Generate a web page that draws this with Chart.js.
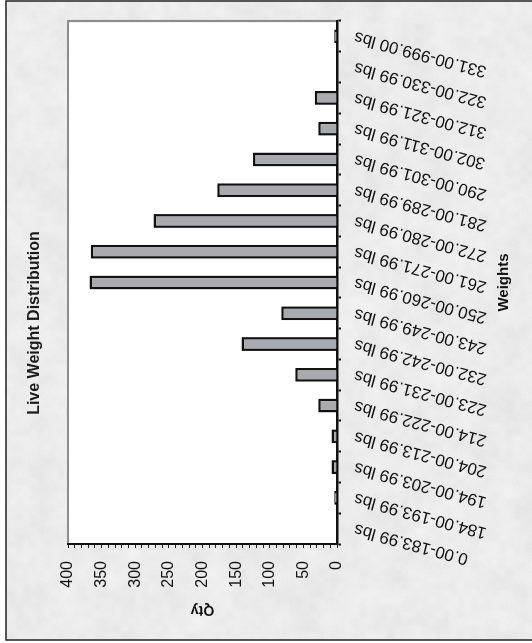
<!DOCTYPE html>
<html>
<head>
<meta charset="utf-8">
<script src="https://cdn.jsdelivr.net/npm/chart.js@4.4.0/dist/chart.umd.min.js"></script>
<style>
  html, body { margin: 0; padding: 0; background: #ffffff; overflow: hidden; }
  /* the chart is laid out landscape and turned a quarter turn counter-clockwise */
  #wrap {
    position: absolute; left: 0; top: 643px;
    width: 643px; height: 532px;
    transform-origin: 0 0; transform: rotate(-90deg);
  }
  canvas { display: block; }
</style>
</head>
<body>
<div id="wrap"><canvas id="chart" width="643" height="532"></canvas></div>
<script>
// weight classes, lightest first
const weightClasses = [
  '0.00-183.99 lbs', '184.00-193.99 lbs', '194.00-203.99 lbs', '204.00-213.99 lbs',
  '214.00-222.99 lbs', '223.00-231.99 lbs', '232.00-242.99 lbs', '243.00-249.99 lbs',
  '250.00-260.99 lbs', '261.00-271.99 lbs', '272.00-280.99 lbs', '281.00-289.99 lbs',
  '290.00-301.99 lbs', '302.00-311.99 lbs', '312.00-321.99 lbs', '322.00-330.99 lbs',
  '331.00-999.00 lbs'
];
// head count in each weight class
const headCounts = [0, 4, 8, 8, 28, 62, 142, 83, 368, 366, 273, 178, 125, 28, 33, 0, 4];
// labelled values on the quantity axis (minor marks every 10)
const qtyTickLabels = [0, 50, 100, 150, 200, 250, 300, 350, 400];

const chartTitle = 'Live Weight Distribution';
const categoryTitle = 'Weights';
const valueTitle = 'Qty';

const FONT = '"Liberation Sans", Arial, sans-serif';

// soft paper-like mottling for the chart panel, from a fixed integer hash
function hash2(x, y) {
  let h = Math.imul(x, 374761393) ^ Math.imul(y, 668265263);
  h = Math.imul(h ^ (h >>> 13), 1274126177);
  h ^= h >>> 16;
  return (h >>> 0) / 4294967295;
}
function smoothNoise(x, y, cell) {
  const gx = Math.floor(x / cell), gy = Math.floor(y / cell);
  const fx = x / cell - gx, fy = y / cell - gy;
  const sx = fx * fx * (3 - 2 * fx), sy = fy * fy * (3 - 2 * fy);
  const a = hash2(gx, gy), b = hash2(gx + 1, gy);
  const c = hash2(gx, gy + 1), d = hash2(gx + 1, gy + 1);
  return (a + (b - a) * sx) + ((c + (d - c) * sx) - (a + (b - a) * sx)) * sy;
}
function makePanelTexture(w, h) {
  const cv = document.createElement('canvas');
  cv.width = w; cv.height = h;
  const g = cv.getContext('2d');
  const img = g.createImageData(w, h);
  for (let y = 0; y < h; y++) {
    for (let x = 0; x < w; x++) {
      const n = 0.45 * smoothNoise(x, y, 22) + 0.35 * smoothNoise(x + 91, y + 37, 7)
              + 0.2 * hash2(x + 5000, y + 7000);
      const v = Math.round(227 + n * 16);
      const i = (y * w + x) * 4;
      img.data[i] = v; img.data[i + 1] = v; img.data[i + 2] = v; img.data[i + 3] = 255;
    }
  }
  g.putImageData(img, 0, 0);
  return cv;
}
let panelTexture = null;

// frame, textured panel, white plot area and the chart title
const framePlugin = {
  id: 'frame',
  beforeDraw(chart) {
    const { ctx, chartArea: a, width, height } = chart;
    if (!panelTexture) panelTexture = makePanelTexture(width, height);
    ctx.save();
    ctx.fillStyle = '#ffffff';
    ctx.fillRect(0, 0, width, height);
    ctx.drawImage(panelTexture, 3, 6, width - 4, height - 6, 3, 6, width - 4, height - 6);
    ctx.strokeStyle = '#222222';
    ctx.lineWidth = 1.5;
    ctx.strokeRect(3, 6, width - 4, height + 20);
    ctx.fillStyle = '#ffffff';
    ctx.fillRect(a.left, a.top, a.right - a.left, a.bottom - a.top);
    ctx.strokeStyle = '#8c8c8c';
    ctx.lineWidth = 2.2;
    ctx.beginPath();
    ctx.moveTo(a.left, a.top);
    ctx.lineTo(a.right, a.top);
    ctx.lineTo(a.right, a.bottom);
    ctx.stroke();
    ctx.fillStyle = '#1a1a1a';
    ctx.font = 'bold 16px ' + FONT;
    ctx.textAlign = 'center';
    ctx.textBaseline = 'middle';
    ctx.fillText(chartTitle, 320, 35);
    ctx.restore();
  }
};

new Chart(document.getElementById('chart'), {
  type: 'bar',
  data: {
    labels: weightClasses,
    datasets: [{
      data: headCounts,
      backgroundColor: '#a9aaae',
      borderColor: '#111111',
      borderWidth: 2.5,
      borderSkipped: 'start',
      categoryPercentage: 1,
      barPercentage: 0.45
    }]
  },
  options: {
    responsive: false,
    animation: false,
    devicePixelRatio: 1,
    layout: { padding: { left: 0, right: 21, top: 68, bottom: 0 } },
    plugins: {
      legend: { display: false },
      tooltip: { enabled: false },
      title: { display: false }
    },
    scales: {
      x: {
        offset: true,
        grid: {
          display: true, drawOnChartArea: false, drawTicks: true, offset: true,
          tickLength: 4, tickWidth: 2, tickColor: '#111111'
        },
        border: { display: true, color: '#111111', width: 2.5 },
        ticks: {
          autoSkip: false, minRotation: 75, maxRotation: 75, padding: 11,
          color: '#111111', font: { family: FONT, size: 17 }
        },
        title: {
          display: true, text: categoryTitle, color: '#111111',
          font: { family: FONT, size: 15, weight: 'bold' },
          padding: { top: 0, bottom: 19 }
        },
        afterFit(scale) { scale.height = 195; }
      },
      y: {
        min: 0, max: 400,
        grid: {
          display: true, drawOnChartArea: false, drawTicks: true,
          tickLength: 4, tickWidth: 1, tickColor: '#222222'
        },
        border: { display: true, color: '#111111', width: 2 },
        ticks: {
          stepSize: 10, autoSkip: false, padding: 13, color: '#111111',
          font: { family: FONT, size: 16 },
          callback: v => (qtyTickLabels.includes(v) ? String(v) : '')
        },
        title: {
          display: true, text: valueTitle, color: '#111111',
          font: { family: FONT, size: 14, weight: 'bold' },
          padding: { top: 25, bottom: 0 }
        },
        afterFit(scale) { scale.width = 99; }
      }
    }
  },
  plugins: [framePlugin]
});
</script>
</body>
</html>
